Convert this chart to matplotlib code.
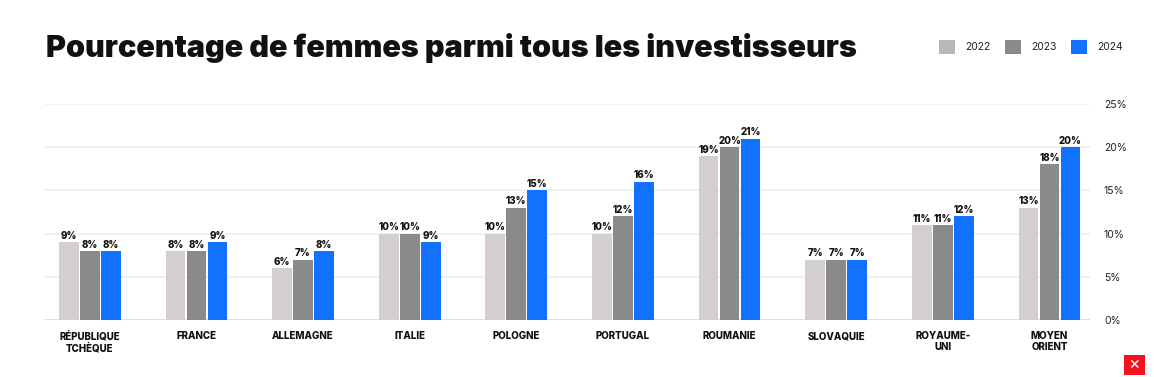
import matplotlib
matplotlib.use('Agg')
import matplotlib.pyplot as plt
import numpy as np
from matplotlib.patches import Patch

pays = ['RÉPUBLIQUE\nTCHÈQUE', 'FRANCE', 'ALLEMAGNE', 'ITALIE', 'POLOGNE',
        'PORTUGAL', 'ROUMANIE', 'SLOVAQUIE', 'ROYAUME-\nUNI', 'MOYEN\nORIENT']
annees = ['2022', '2023', '2024']
v2022 = [9, 8, 6, 10, 10, 10, 19, 7, 11, 13]
v2023 = [8, 8, 7, 10, 13, 12, 20, 7, 11, 18]
v2024 = [8, 9, 8, 9, 15, 16, 21, 7, 12, 20]
yticks = [0, 5, 10, 15, 20, 25]

couleurs_barres = ['#d4cfcf', '#8a8a8a', '#1271ff']
couleurs_legende = ['#b8b8b8', '#8a8a8a', '#1271ff']

plt.rcParams['font.family'] = ['Inter', 'DejaVu Sans']

fig = plt.figure(figsize=(11.54, 3.77), dpi=100)
ax = fig.add_axes([45 / 1154, 1 - 320 / 377, 1045 / 1154, 216 / 377])

x = np.arange(len(pays))
largeur = 0.185
for i, (vals, c) in enumerate(zip([v2022, v2023, v2024], couleurs_barres)):
    pos = x + (i - 1) * (largeur + 0.012) + 0.02
    ax.bar(pos, vals, width=largeur, color=c, zorder=3)
    for xb, v in zip(pos, vals):
        ax.text(xb, v + 0.15, f'{v}%', ha='center', va='bottom',
                fontsize=7, fontweight='heavy', color='#111111', zorder=4)

ax.set_xlim(-0.4, len(pays) - 0.6)
ax.set_ylim(0, 25)
ax.set_yticks(yticks)
ax.set_yticklabels([f'{t}%' for t in yticks])
ax.yaxis.tick_right()
ax.tick_params(axis='y', length=0, pad=10, labelsize=7.5, labelcolor='#222222')
ax.set_xticks(x + 0.02)
ax.set_xticklabels(pays, fontsize=7, fontweight='heavy', color='#111111',
                   linespacing=1.1)
ax.tick_params(axis='x', length=0, pad=8)
ax.grid(axis='y', color='#eeeeee', linewidth=1.2, zorder=0)
for s in ax.spines.values():
    s.set_visible(False)
ax.axhline(0, color='#dddddd', linewidth=2, zorder=2)

fig.text(46 / 1154, 1 - 48 / 377, 'Pourcentage de femmes parmi tous les investisseurs',
         fontsize=22, fontweight='black', color='#111111', va='center', ha='left')

handles = [Patch(facecolor=c, edgecolor='none') for c in couleurs_legende]
fig.legend(handles, annees, loc='center', bbox_to_anchor=(1031 / 1154, 1 - 47 / 377),
           ncol=3, frameon=False, fontsize=7.5, handlelength=1.55, handleheight=1.55,
           columnspacing=1.35, handletextpad=1.0, labelcolor='#222222')

# logo
logo = fig.add_axes([1124 / 1154, 1 - 375 / 377, 21 / 1154, 20 / 377])
logo.set_facecolor('#f0141e')
logo.set_xticks([])
logo.set_yticks([])
for s in logo.spines.values():
    s.set_visible(False)
logo.text(0.5, 0.5, '✕', color='white', fontsize=10, fontweight='bold',
          ha='center', va='center', family='DejaVu Sans')

fig.savefig('out.png', dpi=100)
